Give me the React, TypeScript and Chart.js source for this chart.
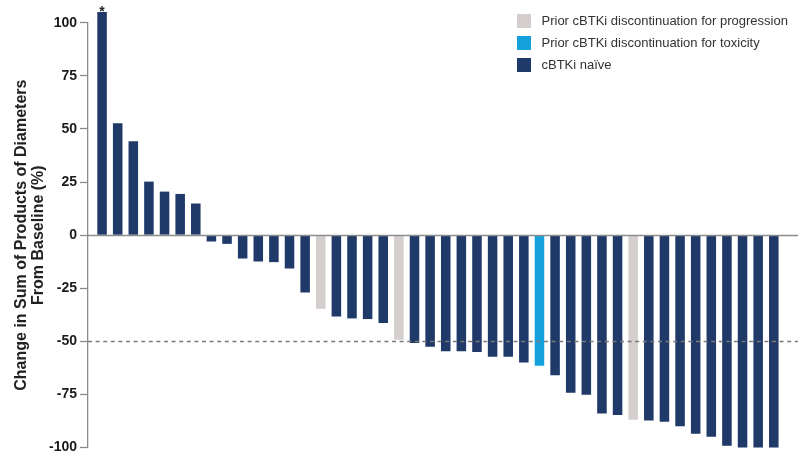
import React, { useEffect, useRef } from 'react';
import { Chart, registerables } from 'chart.js';

Chart.register(...registerables);

const FONT = "'Liberation Sans', Arial, sans-serif";

const patients = [
  1, 2, 3, 4, 5, 6, 7, 8, 9, 10, 11, 12, 13, 14, 15, 16, 17, 18, 19, 20, 21, 22,
  23, 24, 25, 26, 27, 28, 29, 30, 31, 32, 33, 34, 35, 36, 37, 38, 39, 40, 41, 42, 43, 44,
];

const changes = [
  105, 52.7, 44.2, 25.2, 20.5, 19.4, 14.9, -3.0, -4.1, -11.0, -12.4, -12.7, -15.7, -27.0,
  -34.7, -38.3, -39.2, -39.5, -41.4, -49.2, -50.8, -52.5, -54.6, -54.7, -55.0, -57.2,
  -57.2, -59.9, -61.5, -66.0, -74.2, -75.1, -84.0, -84.7, -86.9, -87.2, -87.8, -90.0,
  -93.5, -94.9, -99.1, -100, -100, -100,
];

const groups = [
  'naive', 'naive', 'naive', 'naive', 'naive', 'naive', 'naive', 'naive', 'naive', 'naive',
  'naive', 'naive', 'naive', 'naive', 'progression', 'naive', 'naive', 'naive', 'naive',
  'progression', 'naive', 'naive', 'naive', 'naive', 'naive', 'naive', 'naive', 'naive',
  'toxicity', 'naive', 'naive', 'naive', 'naive', 'naive', 'progression', 'naive', 'naive',
  'naive', 'naive', 'naive', 'naive', 'naive', 'naive', 'naive',
];

const groupKeys = ['progression', 'toxicity', 'naive'];
const groupLabels = [
  'Prior cBTKi discontinuation for progression',
  'Prior cBTKi discontinuation for toxicity',
  'cBTKi naïve',
];
const groupColors = ['#d4cfcc', '#14a2dc', '#1f3968'];

const flaggedPatients = [1]; // value truncated / marked with asterisk
const responseThreshold = -50;
const yMin = -100;
const yMax = 100;
const yStep = 25;

const yTitle = ['Change in Sum of Products of Diameters', 'From Baseline (%)'];

export default function App() {
  const canvasRef = useRef<HTMLCanvasElement | null>(null);

  useEffect(() => {
    const canvas = canvasRef.current;
    if (!canvas) return;

    const datasets = groupKeys.map((key, gi) => ({
      label: groupLabels[gi],
      data: changes
        .map((v, i) => (groups[i] === key ? { x: i, y: v, patient: patients[i] } : null))
        .filter((p) => p !== null),
      backgroundColor: groupColors[gi],
      borderWidth: 0,
      grouped: false,
      barPercentage: 0.61,
      categoryPercentage: 1,
      clip: false as any,
    }));

    const overlayPlugin = {
      id: 'overlay',
      afterDatasetsDraw(chart: any) {
        const { ctx, chartArea, scales } = chart;
        const y = scales.y;
        ctx.save();
        // zero line
        const y0 = Math.round(y.getPixelForValue(0)) + 0.5;
        ctx.strokeStyle = '#8c8c8c';
        ctx.lineWidth = 1.3;
        ctx.beginPath();
        ctx.moveTo(chartArea.left, y0);
        ctx.lineTo(chartArea.right, y0);
        ctx.stroke();
        // threshold dashed line
        const yt = Math.round(y.getPixelForValue(responseThreshold)) + 0.5;
        ctx.strokeStyle = '#7a7a7a';
        ctx.setLineDash([4, 3.6]);
        ctx.beginPath();
        ctx.moveTo(chartArea.left, yt);
        ctx.lineTo(chartArea.right, yt);
        ctx.stroke();
        ctx.setLineDash([]);
        // asterisk
        ctx.fillStyle = '#222';
        ctx.font = `bold 14px ${FONT}`;
        ctx.textAlign = 'center';
        ctx.textBaseline = 'alphabetic';
        chart.data.datasets.forEach((ds: any, di: number) => {
          const meta = chart.getDatasetMeta(di);
          ds.data.forEach((pt: any, j: number) => {
            if (flaggedPatients.includes(pt.patient)) {
              const el = meta.data[j];
              ctx.fillText('*', el.x, el.y + 4);
            }
          });
        });
        ctx.restore();
      },
      afterDraw(chart: any) {
        const { ctx } = chart;
        ctx.save();
        ctx.font = `13px ${FONT}`;
        ctx.textAlign = 'left';
        ctx.textBaseline = 'middle';
        chart.data.datasets.forEach((ds: any, i: number) => {
          const cy = 21 + i * 22;
          ctx.fillStyle = ds.backgroundColor;
          ctx.fillRect(517, cy - 7, 14, 14);
          ctx.fillStyle = '#333';
          ctx.fillText(ds.label, 541.5, cy + 0.5);
        });
        ctx.restore();
      },
    };

    const chart = new Chart(canvas, {
      type: 'bar',
      data: { datasets: datasets as any },
      options: {
        animation: false,
        responsive: false,
        devicePixelRatio: 1,
        layout: { padding: { top: 22.7, bottom: 10.7, left: 0, right: 0 } },
        plugins: {
          legend: { display: false },
          tooltip: { enabled: false },
        },
        scales: {
          x: {
            type: 'linear',
            display: false,
            offset: false,
            min: -0.9,
            max: 44.55,
            grid: { display: false },
          },
          y: {
            type: 'linear',
            min: yMin,
            max: yMax,
            afterFit: (scale: any) => {
              scale.width = 88;
            },
            border: { display: true, color: '#8c8c8c', width: 1.3 },
            grid: {
              display: true,
              drawOnChartArea: false,
              drawTicks: true,
              tickLength: 8,
              tickColor: '#8c8c8c',
              tickWidth: 1.3,
            },
            ticks: {
              stepSize: yStep,
              padding: 3,
              color: '#1a1a1a',
              font: { family: FONT, size: 14, weight: 'bold' },
              callback: (v: any) => String(v),
            },
            title: {
              display: true,
              text: yTitle,
              color: '#222',
              font: { family: FONT, size: 16, weight: 'bold', lineHeight: 1.05 },
              padding: { top: 13.3, bottom: 0 },
            },
          },
        },
      },
      plugins: [overlayPlugin],
    });

    return () => chart.destroy();
  }, []);

  return (
    <div style={{ position: 'absolute', left: 0, top: 0, width: 798, height: 459, background: '#fff' }}>
      <canvas ref={canvasRef} width={798} height={459} style={{ display: 'block' }} />
    </div>
  );
}
